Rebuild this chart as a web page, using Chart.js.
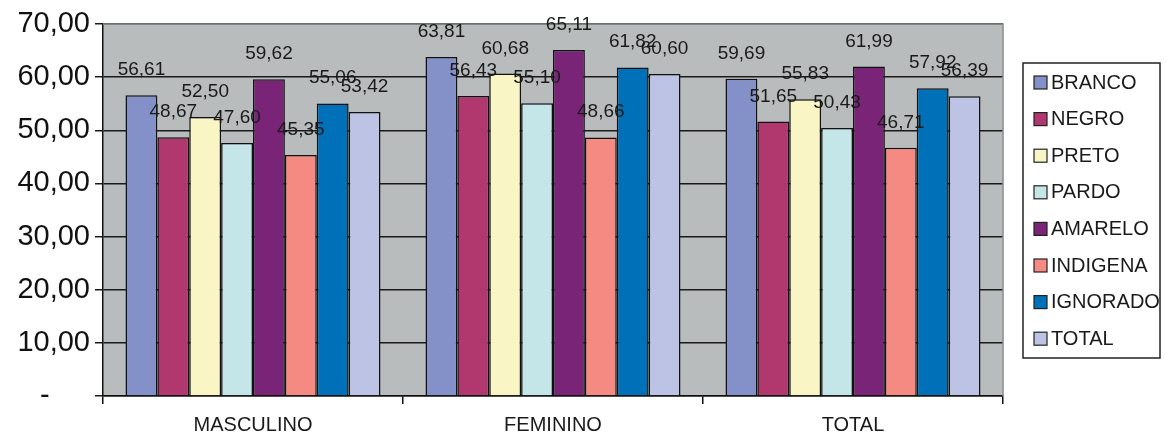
<!DOCTYPE html>
<html>
<head>
<meta charset="utf-8">
<script src="https://cdn.jsdelivr.net/npm/chart.js@4"></script>
<style>
  html, body { margin: 0; padding: 0; background: #fff; }
  #wrap { width: 1166px; height: 436px; }
</style>
</head>
<body>
<div id="wrap"><canvas id="chart" width="1166" height="436"></canvas></div>
<script>
// Categories (x axis)
const categories = ["MASCULINO", "FEMININO", "TOTAL"];

// Series names and values per category
const seriesNames = ["BRANCO", "NEGRO", "PRETO", "PARDO", "AMARELO", "INDIGENA", "IGNORADO", "TOTAL"];
const branco   = [56.61, 63.81, 59.69];
const negro    = [48.67, 56.43, 51.65];
const preto    = [52.50, 60.68, 55.83];
const pardo    = [47.60, 55.10, 50.43];
const amarelo  = [59.62, 65.11, 61.99];
const indigena = [45.35, 48.66, 46.71];
const ignorado = [55.06, 61.82, 57.92];
const total    = [53.42, 60.60, 56.39];

const seriesColors = ["#8490c8", "#b0386e", "#faf5c4", "#c4e6e8", "#7a2478", "#f48a82", "#0070b8", "#bcc3e4"];

// Format number with comma as decimal separator
function fmt(v) {
    return v.toFixed(2).replace('.', ',');
}

const allSeries = [branco, negro, preto, pardo, amarelo, indigena, ignorado, total];

// Plot background, plot border, value labels and legend
const decorPlugin = {
    id: 'decor',
    beforeDraw(chart) {
        const { ctx, chartArea: a } = chart;
        ctx.save();
        ctx.fillStyle = '#b9bcbd';
        ctx.fillRect(a.left, a.top, a.right - a.left, a.bottom - a.top);
        ctx.restore();
    },
    afterDraw(chart) {
        const { ctx, chartArea: a } = chart;
        ctx.save();
        // top and right border of plot area
        ctx.strokeStyle = '#8a8a8a';
        ctx.lineWidth = 1.5;
        ctx.beginPath();
        ctx.moveTo(a.left, a.top);
        ctx.lineTo(a.right, a.top);
        ctx.lineTo(a.right, a.bottom);
        ctx.stroke();

        // value labels above bars
        ctx.font = '19px "Liberation Sans", Arial, sans-serif';
        ctx.fillStyle = '#1a1a1a';
        ctx.textAlign = 'center';
        ctx.textBaseline = 'alphabetic';
        chart.data.datasets.forEach((ds, i) => {
            const meta = chart.getDatasetMeta(i);
            meta.data.forEach((bar, j) => {
                ctx.fillText(fmt(ds.data[j]), bar.x, bar.y - 20);
            });
        });

        // legend box
        const lx = 1023, ly = 63, lw = 137, lh = 295;
        ctx.fillStyle = '#fff';
        ctx.fillRect(lx, ly, lw, lh);
        ctx.strokeStyle = '#222';
        ctx.lineWidth = 1.5;
        ctx.strokeRect(lx, ly, lw, lh);
        ctx.font = '20px "Liberation Sans", Arial, sans-serif';
        ctx.textAlign = 'left';
        ctx.textBaseline = 'middle';
        seriesNames.forEach((name, i) => {
            const cy = 82 + i * 36.6;
            ctx.fillStyle = seriesColors[i];
            ctx.fillRect(1034, cy - 6, 13, 13);
            ctx.strokeStyle = '#222';
            ctx.lineWidth = 1.2;
            ctx.strokeRect(1034, cy - 6, 13, 13);
            ctx.fillStyle = '#1a1a1a';
            ctx.fillText(name, 1051, cy + 1);
        });
        ctx.restore();
    }
};

new Chart(document.getElementById('chart'), {
    type: 'bar',
    plugins: [decorPlugin],
    data: {
        labels: categories,
        datasets: seriesNames.map((name, i) => ({
            label: name,
            data: allSeries[i],
            backgroundColor: seriesColors[i],
            borderColor: '#111',
            borderWidth: 1.5,
            categoryPercentage: 0.85,
            barPercentage: 1.0,
        })),
    },
    options: {
        responsive: false,
        animation: false,
        layout: { padding: { top: 24, right: 163, bottom: 0, left: 0 } },
        plugins: {
            legend: { display: false },
            tooltip: { enabled: false },
        },
        scales: {
            x: {
                grid: {
                    offset: true,
                    drawOnChartArea: false,
                    color: '#111',
                    tickLength: 8,
                    lineWidth: 1.5,
                },
                border: { color: '#111', width: 1.5 },
                ticks: {
                    color: '#1a1a1a',
                    font: { family: '"Liberation Sans", Arial, sans-serif', size: 20 },
                    padding: 9,
                },
                afterFit(scale) { scale.height = 40; },
            },
            y: {
                min: 0,
                max: 70,
                ticks: {
                    stepSize: 10,
                    color: '#111',
                    padding: 5,
                    font: { family: '"Liberation Sans", Arial, sans-serif', size: 29 },
                    callback: (v) => v === 0 ? '-     ' : fmt(v),
                },
                grid: {
                    color: '#1a1a1a',
                    lineWidth: 1.5,
                    tickLength: 8,
                },
                border: { color: '#111', width: 1.5 },
                afterFit(scale) { scale.width = 103; },
            },
        },
    },
});
</script>
</body>
</html>
